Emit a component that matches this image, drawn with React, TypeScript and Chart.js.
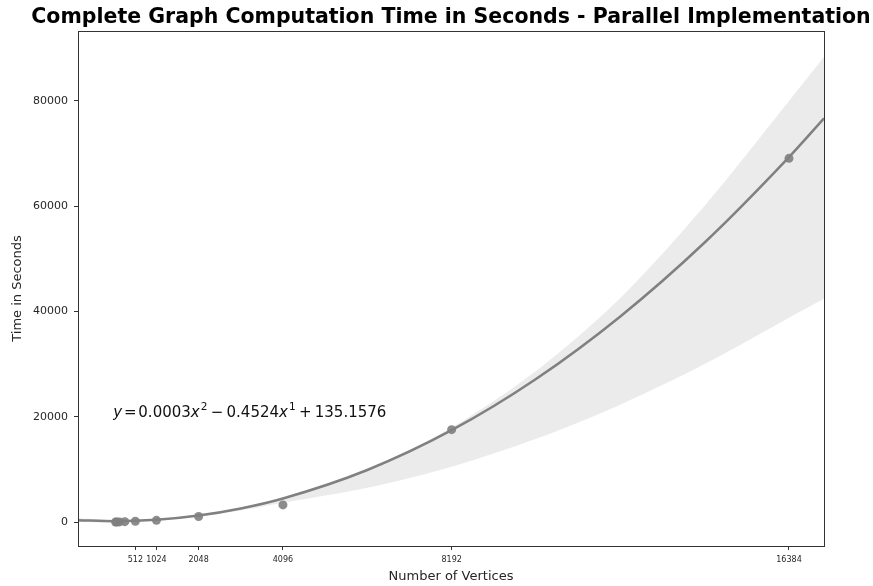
import { useEffect, useRef } from 'react';
import { Chart, registerables } from 'chart.js';

Chart.register(...registerables);

const TITLE = 'Complete Graph Computation Time in Seconds - Parallel Implementation';
const X_LABEL = 'Number of Vertices';
const Y_LABEL = 'Time in Seconds';

// measured points
const vertices = [32, 64, 128, 256, 512, 1024, 2048, 4096, 8192, 16384];
const seconds = [3, 8, 20, 60, 150, 320, 1050, 3250, 17550, 69100];

// regression curve and confidence band
const fitX = [-881, 0, 1024, 2048, 3072, 4096, 6144, 8192, 10240, 12288, 14336, 16384, 17234];
const fitY = [350, 150, 420, 1230, 2580, 4470, 9880, 17440, 27170, 39060, 53110, 69330, 76690];
const bandUpper = [700, 350, 560, 1380, 2750, 4620, 10050, 17940, 28670, 42560, 60100, 80000, 88400];
const bandLower = [0, -50, 280, 1080, 2200, 3650, 6500, 10500, 15800, 22300, 30000, 38800, 42400];

const xTicks = [512, 1024, 2048, 4096, 8192, 16384];
const yTicks = [0, 20000, 40000, 60000, 80000];
const X_MIN = -881;
const X_MAX = 17234;
const Y_MIN = -4560;
const Y_MAX = 93290;

const EQ_X = 0;
const EQ_Y = 20000;

const FONT = '"DejaVu Sans", sans-serif';

const framePlugin = {
  id: 'frame',
  afterDraw(chart: any) {
    const { ctx, chartArea: a } = chart;
    ctx.save();
    ctx.strokeStyle = '#333333';
    ctx.lineWidth = 1;
    ctx.strokeRect(Math.round(a.left) + 0.5, Math.round(a.top) + 0.5, Math.round(a.right - a.left), Math.round(a.bottom - a.top));
    ctx.restore();
  },
};

const titlePlugin = {
  id: 'plotTitle',
  afterDraw(chart: any) {
    const { ctx, chartArea: a } = chart;
    ctx.save();
    ctx.font = `bold 20.5px ${FONT}`;
    ctx.fillStyle = '#000';
    ctx.textAlign = 'center';
    ctx.textBaseline = 'middle';
    ctx.fillText(TITLE, (a.left + a.right) / 2, 18);
    ctx.restore();
  },
};

const equationPlugin = {
  id: 'equation',
  afterDatasetsDraw(chart: any) {
    const { ctx } = chart;
    const xs = chart.scales.x;
    const ys = chart.scales.y;
    let x = xs.getPixelForValue(EQ_X) - 1;
    const y = ys.getPixelForValue(EQ_Y);
    const size = 15;
    const parts: [string, string, number][] = [
      ['y', 'italic', 0],
      ['__sp', '', 0.12],
      ['=', '', 0],
      ['__sp', '', 0.12],
      ['0.0003', '', 0],
      ['x', 'italic', 0],
      ['2', 'sup', 0],
      ['__sp', '', 0.22],
      ['\u2212', '', 0],
      ['__sp', '', 0.22],
      ['0.4524', '', 0],
      ['x', 'italic', 0],
      ['1', 'sup', 0],
      ['__sp', '', 0.22],
      ['+', '', 0],
      ['__sp', '', 0.22],
      ['135.1576', '', 0],
    ];
    ctx.save();
    ctx.fillStyle = '#111';
    ctx.textAlign = 'left';
    ctx.textBaseline = 'alphabetic';
    for (const [t, style, sp] of parts) {
      if (t === '__sp') {
        x += sp * size;
        continue;
      }
      if (style === 'sup') {
        ctx.font = `${size * 0.7}px ${FONT}`;
        ctx.fillText(t, x + 1, y - size * 0.42);
        x += ctx.measureText(t).width + 1;
      } else {
        ctx.font = `${style === 'italic' ? 'italic ' : ''}${size}px ${FONT}`;
        ctx.fillText(t, x, y);
        x += ctx.measureText(t).width;
      }
    }
    ctx.restore();
  },
};

export default function App() {
  const ref = useRef<HTMLCanvasElement>(null);
  useEffect(() => {
    const canvas = ref.current;
    if (!canvas) return;
    const chart = new Chart(canvas, {
      type: 'scatter',
      data: {
        datasets: [
          {
            label: 'lower',
            data: fitX.map((v, i) => ({ x: v, y: bandLower[i] })),
            showLine: true,
            borderWidth: 0,
            borderColor: 'rgba(0,0,0,0)',
            pointRadius: 0,
            tension: 0.3,
            fill: false,
            order: 4,
          },
          {
            label: 'upper',
            data: fitX.map((v, i) => ({ x: v, y: bandUpper[i] })),
            showLine: true,
            borderWidth: 0,
            borderColor: 'rgba(0,0,0,0)',
            backgroundColor: 'rgba(128,128,128,0.16)',
            pointRadius: 0,
            tension: 0.3,
            fill: '-1',
            order: 3,
          },
          {
            label: 'fit',
            data: fitX.map((v, i) => ({ x: v, y: fitY[i] })),
            showLine: true,
            borderWidth: 2.5,
            borderColor: 'rgb(128,128,128)',
            pointRadius: 0,
            cubicInterpolationMode: 'monotone',
            fill: false,
            order: 2,
          },
          {
            label: 'data',
            data: vertices.map((v, i) => ({ x: v, y: seconds[i] })),
            showLine: false,
            pointRadius: 4.5,
            pointBorderWidth: 0,
            backgroundColor: 'rgba(128,128,128,0.9)',
            borderColor: 'rgba(128,128,128,0.9)',
            order: 1,
          },
        ],
      },
      options: {
        animation: false,
        responsive: true,
        maintainAspectRatio: false,
        layout: { padding: { top: 31, right: 49, left: 0, bottom: 0 } },
        plugins: {
          legend: { display: false },
          title: { display: false },
          tooltip: { enabled: false },
        },
        scales: {
          x: {
            type: 'linear',
            min: X_MIN,
            max: X_MAX,
            afterBuildTicks: (s: any) => {
              s.ticks = xTicks.map((v) => ({ value: v }));
            },
            afterFit: (s: any) => {
              s.height = 40;
            },
            border: { display: false },
            grid: { display: true, drawOnChartArea: false, drawTicks: true, tickLength: 4, color: '#333', tickColor: '#333' },
            ticks: {
              autoSkip: false,
              maxRotation: 0,
              padding: 5,
              color: '#262626',
              font: { family: FONT, size: 8 },
              callback: (v: any) => String(v),
            },
            title: {
              display: true,
              text: X_LABEL,
              color: '#262626',
              font: { family: FONT, size: 13 },
              padding: { top: 0, bottom: 2 },
            },
          },
          y: {
            type: 'linear',
            min: Y_MIN,
            max: Y_MAX,
            afterBuildTicks: (s: any) => {
              s.ticks = yTicks.map((v) => ({ value: v }));
            },
            afterFit: (s: any) => {
              s.width = 78;
            },
            border: { display: false },
            grid: { display: true, drawOnChartArea: false, drawTicks: true, tickLength: 4, color: '#333', tickColor: '#333' },
            ticks: {
              autoSkip: false,
              padding: 6,
              color: '#262626',
              font: { family: FONT, size: 11 },
              callback: (v: any) => String(v),
            },
            title: {
              display: true,
              text: Y_LABEL,
              color: '#262626',
              font: { family: FONT, size: 13 },
              padding: { top: 10, bottom: 0 },
            },
          },
        },
      },
      plugins: [framePlugin, titlePlugin, equationPlugin],
    });
    return () => chart.destroy();
  }, []);
  return (
    <div style={{ position: 'fixed', left: 0, top: 0, width: 873, height: 586, background: '#fff' }}>
      <canvas ref={ref} />
    </div>
  );
}
